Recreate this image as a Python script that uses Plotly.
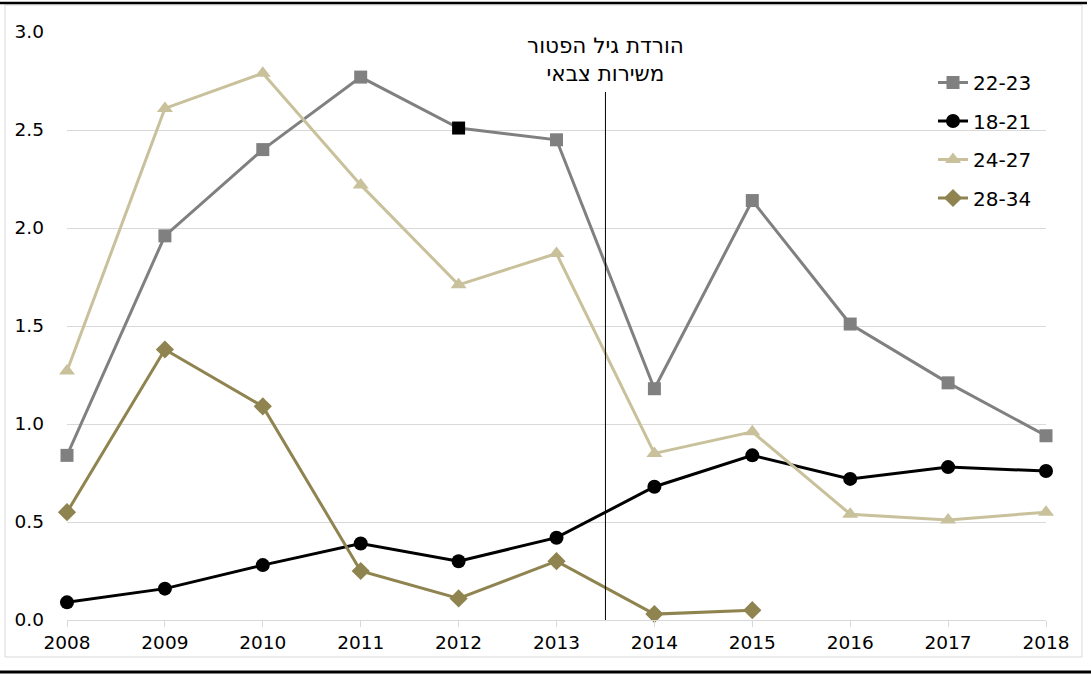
import plotly.graph_objects as go

years = [2008, 2009, 2010, 2011, 2012, 2013, 2014, 2015, 2016, 2017, 2018]
s_22_23 = [0.84, 1.96, 2.40, 2.77, 2.51, 2.45, 1.18, 2.14, 1.51, 1.21, 0.94]
s_18_21 = [0.09, 0.16, 0.28, 0.39, 0.30, 0.42, 0.68, 0.84, 0.72, 0.78, 0.76]
s_24_27 = [1.27, 2.61, 2.79, 2.22, 1.71, 1.87, 0.85, 0.96, 0.54, 0.51, 0.55]
s_28_34 = [0.55, 1.38, 1.09, 0.25, 0.11, 0.30, 0.03, 0.05, None, None, None]
y_ticks = [0.0, 0.5, 1.0, 1.5, 2.0, 2.5, 3.0]
y_tick_labels = ["0.0", "0.5", "1.0", "1.5", "2.0", "2.5", "3.0"]
reform_year = 2013.5
reform_lines = ["הורדת גיל הפטור", "משירות צבאי"]

FONT = "DejaVu Sans"
HEB_FONT = "DejaVu Sans"
W, H = 1091, 675
L, R, T, B = 67, 45, 32, 55
PW, PH = W - L - R, H - T - B

def px(x):
    return (x - L) / PW

def py(y):
    return (H - B - y) / PH

grey = "#808080"
tan = "#c9c19b"
olive = "#8f8450"

fig = go.Figure()

fig.add_trace(go.Scatter(
    x=years, y=s_22_23, name="22-23", mode="lines+markers",
    line=dict(color=grey, width=3),
    marker=dict(symbol="square", size=13,
                color=[grey if i != 4 else "black" for i in range(len(years))],
                line=dict(width=0)),
    legendgroup="a", cliponaxis=False))
fig.add_trace(go.Scatter(
    x=years, y=s_18_21, name="18-21", mode="lines+markers",
    line=dict(color="black", width=3),
    marker=dict(symbol="circle", size=14, color="black"),
    legendgroup="b", cliponaxis=False))
fig.add_trace(go.Scatter(
    x=years, y=s_24_27, name="24-27", mode="lines+markers",
    line=dict(color=tan, width=3),
    marker=dict(symbol="triangle-up", size=14, color=tan),
    legendgroup="c", cliponaxis=False))
fig.add_trace(go.Scatter(
    x=years, y=s_28_34, name="28-34", mode="lines+markers",
    line=dict(color=olive, width=3),
    marker=dict(symbol="diamond", size=14, color=olive),
    legendgroup="d", cliponaxis=False))

shapes = [
    dict(type="line", xref="x", yref="y", x0=reform_year, x1=reform_year,
         y0=0, y1=(620 - 92) / 196 * 1.0, line=dict(color="black", width=1)),
    dict(type="rect", xref="paper", yref="paper", x0=px(5), x1=px(1082),
         y0=py(657), y1=py(5), line=dict(color="#d9d9d9", width=1), layer="below"),
    dict(type="line", xref="paper", yref="paper", x0=px(0), x1=px(1087),
         y0=py(3), y1=py(3), line=dict(color="black", width=2.5)),
    dict(type="line", xref="paper", yref="paper", x0=px(0), x1=px(1091),
         y0=py(672), y1=py(672), line=dict(color="black", width=3)),
]

annotations = [
    dict(x=reform_year, xref="x", y=py(59), yref="paper",
         text="<br>".join(reform_lines),
         showarrow=False, xanchor="center", yanchor="middle",
         font=dict(family=HEB_FONT, size=21.5))
]

fig.update_layout(
    width=W, height=H,
    margin=dict(l=L, r=R, t=T, b=B),
    paper_bgcolor="white", plot_bgcolor="white",
    font=dict(family=FONT, size=19, color="black"),
    shapes=shapes,
    annotations=annotations,
    legend=dict(x=px(933), y=py(63), xanchor="left", yanchor="top",
                font=dict(family=FONT, size=20), tracegroupgap=9.5,
                bgcolor="rgba(0,0,0,0)"),
    showlegend=True,
)
fig.update_xaxes(range=[2008, 2018], tickmode="array", tickvals=years,
                 ticktext=[str(y) for y in years], showgrid=False,
                 showline=True, linecolor="#d9d9d9", linewidth=1,
                 ticks="outside", tickcolor="#d9d9d9", ticklen=6,
                 zeroline=False, tickfont=dict(size=18.5))
fig.update_yaxes(range=[0, 3], tickmode="array", tickvals=y_ticks,
                 ticktext=y_tick_labels, showgrid=True, gridcolor="#d9d9d9",
                 gridwidth=1, zeroline=False, showline=False,
                 ticklabelstandoff=22, tickfont=dict(size=18.5))

fig.write_html("out.html", config={"displayModeBar": False},
               post_script="document.body.style.margin='0';document.body.style.overflow='hidden';")
